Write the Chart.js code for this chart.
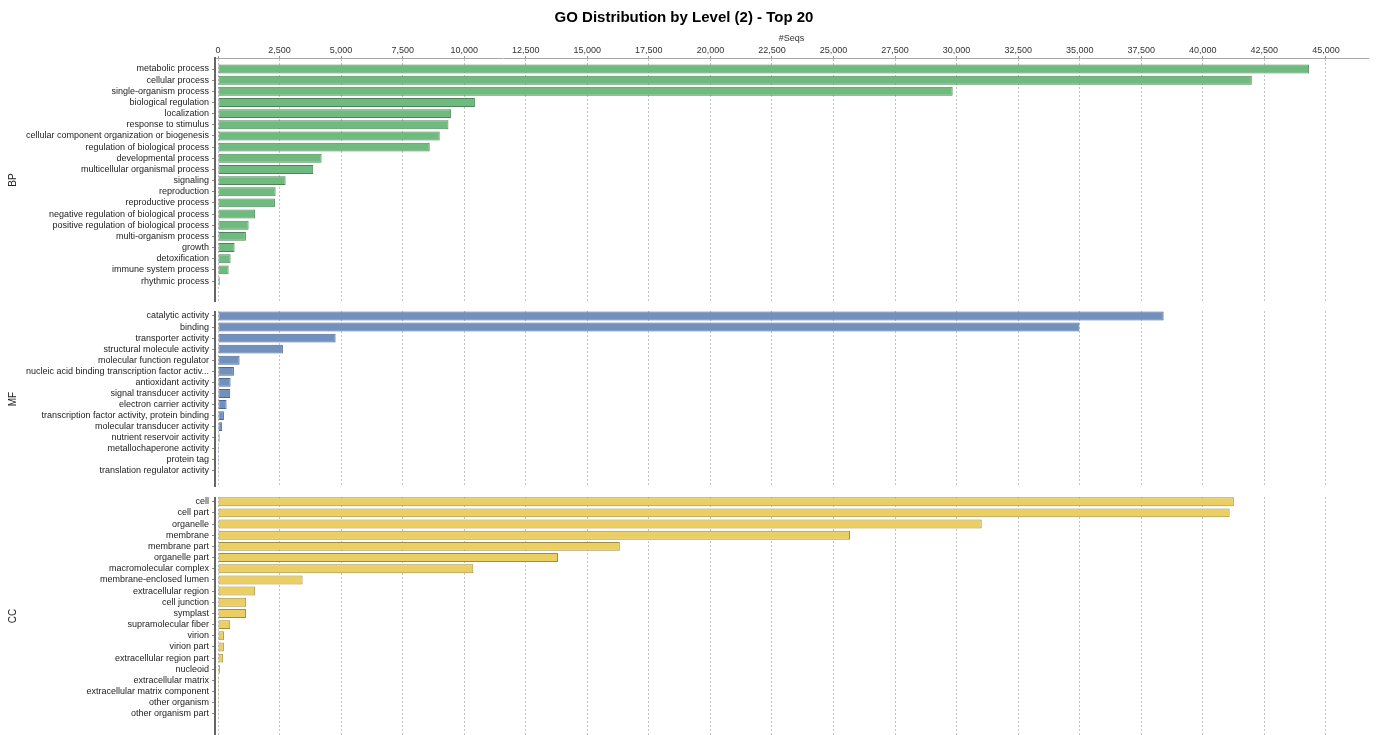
<!DOCTYPE html>
<html>
<head>
<meta charset="utf-8">
<title>GO Distribution by Level (2) - Top 20</title>
<script src="https://cdn.jsdelivr.net/npm/chart.js@4.4.1/dist/chart.umd.min.js"></script>
<style>
    html, body { margin: 0; padding: 0; background: #fff; }
    #wrap { position: relative; width: 1378px; height: 735px; overflow: hidden; }
    #wrap canvas { position: absolute; left: 0; }
</style>
</head>
<body>
<div id="wrap">
    <canvas id="bpChart" width="1378" height="302" style="top:0"></canvas>
    <canvas id="mfChart" width="1378" height="176" style="top:311px"></canvas>
    <canvas id="ccChart" width="1378" height="238" style="top:497px"></canvas>
</div>
<script>
// Biological Process
const bpLabels = [
    'metabolic process', 'cellular process', 'single-organism process', 'biological regulation',
    'localization', 'response to stimulus', 'cellular component organization or biogenesis',
    'regulation of biological process', 'developmental process', 'multicellular organismal process',
    'signaling', 'reproduction', 'reproductive process', 'negative regulation of biological process',
    'positive regulation of biological process', 'multi-organism process', 'growth',
    'detoxification', 'immune system process', 'rhythmic process'
];
const bpValues = [44320, 41990, 29840, 10435, 9470, 9360, 9005, 8600, 4208, 3867,
    2746, 2340, 2311, 1511, 1243, 1133, 674, 512, 431, 70];

// Molecular Function
const mfLabels = [
    'catalytic activity', 'binding', 'transporter activity', 'structural molecule activity',
    'molecular function regulator', 'nucleic acid binding transcription factor activ...',
    'antioxidant activity', 'signal transducer activity', 'electron carrier activity',
    'transcription factor activity, protein binding', 'molecular transducer activity',
    'nutrient reservoir activity', 'metallochaperone activity', 'protein tag',
    'translation regulator activity'
];
const mfValues = [38410, 34990, 4777, 2636, 877, 646, 512, 496, 349, 240, 171, 65, 42, 38, 34];

// Cellular Component
const ccLabels = [
    'cell', 'cell part', 'organelle', 'membrane', 'membrane part', 'organelle part',
    'macromolecular complex', 'membrane-enclosed lumen', 'extracellular region', 'cell junction',
    'symplast', 'supramolecular fiber', 'virion', 'virion part', 'extracellular region part',
    'nucleoid', 'extracellular matrix', 'extracellular matrix component', 'other organism',
    'other organism part'
];
const ccValues = [41260, 41090, 31020, 25670, 16320, 13810, 10370, 3436, 1511, 1145,
    1140, 496, 240, 238, 211, 75, 45, 42, 38, 35];

const seqTicks = [0, 2500, 5000, 7500, 10000, 12500, 15000, 17500, 20000, 22500,
    25000, 27500, 30000, 32500, 35000, 37500, 40000, 42500, 45000];

const FONT = "'Liberation Sans', Arial, sans-serif";

function zeroPadding(s) {
    s.paddingTop = 0; s.paddingBottom = 0; s.paddingLeft = 0; s.paddingRight = 0;
}

function makePanel(id, p) {
    new Chart(document.getElementById(id), {
        type: 'bar',
        data: {
            datasets: [{
                data: p.values.map((v, i) => ({ x: v, y: i })),
                backgroundColor: p.fill,
                borderColor: p.border,
                borderWidth: 1,
                borderSkipped: false,
                barPercentage: 0.8,
                categoryPercentage: 1
            }]
        },
        options: {
            indexAxis: 'y',
            responsive: false,
            animation: false,
            layout: { padding: { right: 10 } },
            plugins: {
                legend: { display: false },
                tooltip: { enabled: false },
                title: {
                    display: p.top,
                    text: 'GO Distribution by Level (2) - Top 20',
                    color: '#000',
                    font: { family: FONT, size: 15, weight: 'bold' },
                    padding: { top: 9, bottom: 2 }
                }
            },
            scales: {
                x: {
                    type: 'linear',
                    position: 'top',
                    bounds: 'data',
                    min: -122,
                    max: 46710,
                    afterBuildTicks: s => { s.ticks = seqTicks.map(v => ({ value: v })); },
                    afterFit: s => { s.height = p.top ? 29 : 0; zeroPadding(s); },
                    grid: { color: '#c4c4c4', drawTicks: p.top, tickLength: 2, tickColor: '#999' },
                    border: { display: p.top, color: '#a8a8a8', width: 1, dash: [2, 2] },
                    ticks: {
                        display: p.top,
                        autoSkip: false,
                        maxRotation: 0,
                        padding: 0,
                        color: '#333',
                        font: { family: FONT, size: 9 },
                        callback: v => v.toLocaleString('en-US')
                    },
                    title: {
                        display: p.top,
                        text: '#Seqs',
                        color: '#333',
                        font: { family: FONT, size: 9 },
                        padding: { top: 4, bottom: 0 }
                    }
                },
                y: {
                    type: 'linear',
                    reverse: true,
                    offset: false,
                    bounds: 'data',
                    min: p.yMin,
                    max: p.yMax,
                    afterBuildTicks: s => { s.ticks = p.labels.map((_, i) => ({ value: i })); },
                    afterFit: s => { s.width = 215; zeroPadding(s); },
                    grid: { offset: false, drawOnChartArea: false, drawTicks: true, tickLength: 3, tickColor: '#888' },
                    border: { color: '#666', width: 2 },
                    ticks: {
                        autoSkip: false,
                        padding: 3,
                        color: '#222',
                        font: { family: FONT, size: 9 },
                        callback: v => p.labels[v]
                    },
                    title: {
                        display: true,
                        text: p.name,
                        color: '#222',
                        font: { family: FONT, size: 10 },
                        padding: { top: 7, bottom: 0 }
                    }
                }
            }
        }
    });
}

makePanel('bpChart', { labels: bpLabels, values: bpValues, name: 'BP', fill: '#6fba7e', border: '#4c8658', top: true, yMin: -0.986, yMax: 20.88 });
makePanel('mfChart', { labels: mfLabels, values: mfValues, name: 'MF', fill: '#7290bd', border: '#4c6894', top: false, yMin: -0.45, yMax: 15.45 });
makePanel('ccChart', { labels: ccLabels, values: ccValues, name: 'CC', fill: '#ebcf62', border: '#a08c42', top: false, yMin: -0.42, yMax: 20.88 });
</script>
</body>
</html>
